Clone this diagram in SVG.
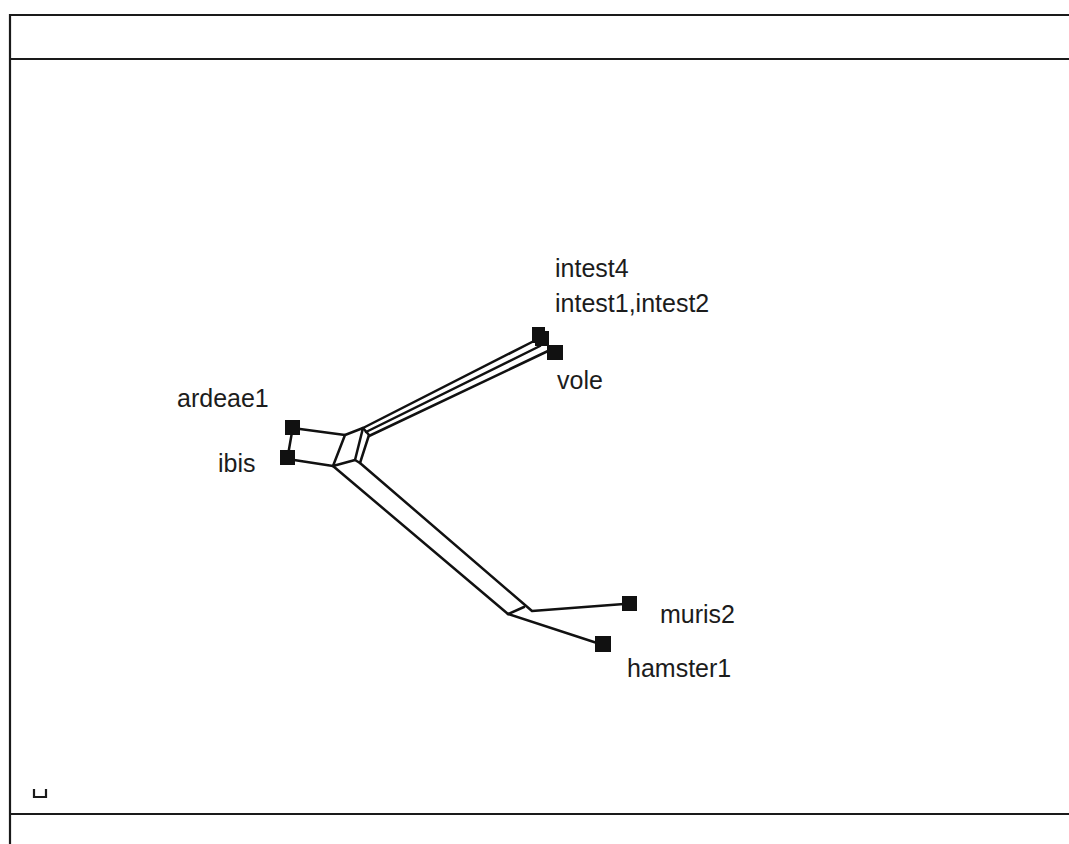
<svg xmlns="http://www.w3.org/2000/svg" width="1069" height="844" viewBox="0 0 1069 844">
<style>
.frame{stroke:#1a1a1a;stroke-width:2.2;fill:none}
.edge{stroke:#111;stroke-width:2.5;fill:none;stroke-linejoin:round;stroke-linecap:round}
.leaf{fill:#111}
.lbl{font-family:"Liberation Sans",Arial,sans-serif;font-size:25px;fill:#1c1c1c}
</style>
<rect width="1069" height="844" fill="#fff"/>
<g id="frame">
<path class="frame" d="M10 844 V15 H1069 M10 59 H1069 M10 814 H1069"/>
<path class="frame" d="M34 789 V797 H46 V789" stroke-width="2.6"/>
</g>
<g id="connectors">
<path class="edge" d="M292 432 L288 455"/>
<path class="edge" d="M300 429 L345 435"/>
<path class="edge" d="M294 460 L333 466"/>
<path class="edge" d="M345 435 L363 428 L355 460 L333 466 Z"/>
<path class="edge" d="M363 428 L369 435 L360 463 L355 460"/>
<path class="edge" d="M363 428 L534 341"/>
<path class="edge" d="M366 432 L540 346"/>
<path class="edge" d="M369 436 L548 351"/>
<path class="edge" d="M333 466 L508 614 L524 607"/>
<path class="edge" d="M360 463 L532 611 L624 604"/>
<path class="edge" d="M508 614 L597 643"/>
</g>
<g id="node-ardeae1"><rect class="leaf" x="285" y="420" width="15" height="15"/><text class="lbl" x="177" y="407">ardeae1</text></g>
<g id="node-ibis"><rect class="leaf" x="280" y="450" width="15" height="15"/><text class="lbl" x="218" y="472">ibis</text></g>
<g id="node-intest4"><rect class="leaf" x="532" y="327" width="13" height="16"/><text class="lbl" x="555" y="277">intest4</text></g>
<g id="node-intest1-intest2"><rect class="leaf" x="535" y="331" width="14" height="15"/><text class="lbl" x="555" y="312">intest1,intest2</text></g>
<g id="node-vole"><rect class="leaf" x="547" y="345" width="16" height="15"/><text class="lbl" x="557" y="389">vole</text></g>
<g id="node-muris2"><rect class="leaf" x="622" y="596" width="15" height="15"/><text class="lbl" x="660" y="623">muris2</text></g>
<g id="node-hamster1"><rect class="leaf" x="595" y="636" width="16" height="16"/><text class="lbl" x="627" y="677">hamster1</text></g>
</svg>
